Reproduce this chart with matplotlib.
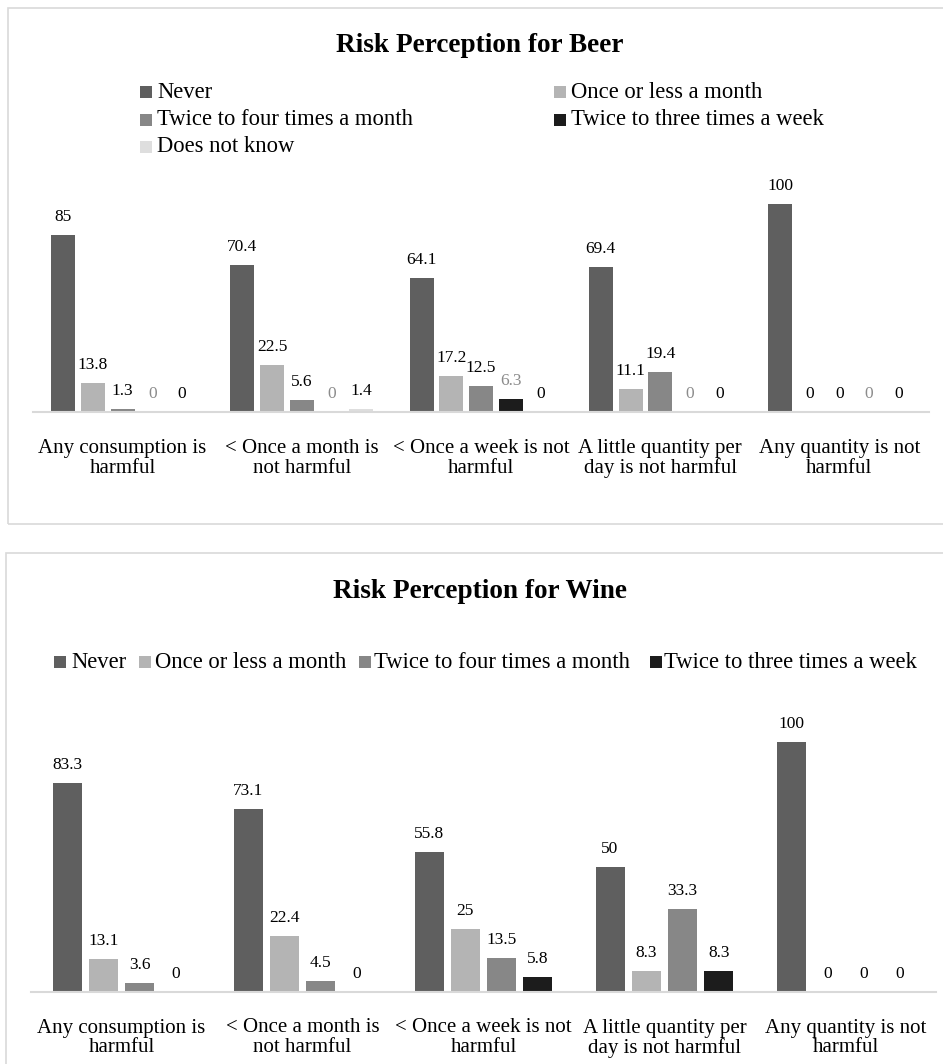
import matplotlib
matplotlib.use("Agg")
import matplotlib.pyplot as plt
from matplotlib.patches import Rectangle

plt.rcParams['font.family'] = ['Liberation Serif', 'DejaVu Serif']

categories = ["Any consumption is\nharmful", "< Once a month is\nnot harmful",
              "< Once a week is not\nharmful", "A little quantity per\nday is not harmful",
              "Any quantity is not\nharmful"]

beer_series = ["Never", "Once or less a month", "Twice to four times a month",
               "Twice to three times a week", "Does not know"]
beer_never = [85, 70.4, 64.1, 69.4, 100]
beer_once = [13.8, 22.5, 17.2, 11.1, 0]
beer_twice_month = [1.3, 5.6, 12.5, 19.4, 0]
beer_twice_week = [0, 0, 6.3, 0, 0]
beer_dnk = [0, 1.4, 0, 0, 0]

wine_series = ["Never", "Once or less a month", "Twice to four times a month",
               "Twice to three times a week"]
wine_never = [83.3, 73.1, 55.8, 50, 100]
wine_once = [13.1, 22.4, 25, 8.3, 0]
wine_twice_month = [3.6, 4.5, 13.5, 33.3, 0]
wine_twice_week = [0, 0, 5.8, 8.3, 0]

colors = ["#5f5f5f", "#b4b4b4", "#878787", "#1c1c1c", "#dedede"]
W, H = 943, 1064
DPI = 100
fig = plt.figure(figsize=(W / DPI, H / DPI), dpi=DPI)

def fx(px):
    return px / W

def fy(py):
    return 1 - py / H

BORDER = "#d9d9d9"
# panel borders
fig.add_artist(Rectangle((fx(8), fy(524)), fx(1000 - 8), (524 - 8) / H,
                         transform=fig.transFigure, fill=False, edgecolor=BORDER, lw=1.2))
fig.add_artist(Rectangle((fx(5.5), fy(1100)), fx(1000), (1100 - 553) / H,
                         transform=fig.transFigure, fill=False, edgecolor=BORDER, lw=1.2))

PX2PT = 72 / DPI

def panel(series_names, series_values, label_colors, ax_l, ax_r, y0, y100, width, pitch,
          title, title_y, legend_items):
    ax = fig.add_axes([fx(ax_l), fy(y0), fx(ax_r - ax_l), (y0 - y100) / H])
    n = len(series_values)
    xs_base = list(range(len(categories)))
    for j, vals in enumerate(series_values):
        xs = [i + (j - (n - 1) / 2) * pitch for i in xs_base]
        ax.bar(xs, vals, width=width, color=colors[j], label=series_names[j], zorder=2)
        for x, v in zip(xs, vals):
            ax.annotate(f"{v:g}", xy=(x, v), xytext=(0, 14 * PX2PT), textcoords="offset points",
                        ha="center", va="baseline", fontsize=12.5, color=label_colors[j],
                        annotation_clip=False)
    ax.set_xlim(-0.5, len(categories) - 0.5)
    ax.set_ylim(0, 100)
    for s in ["top", "left", "right"]:
        ax.spines[s].set_visible(False)
    ax.spines["bottom"].set_color(BORDER)
    ax.spines["bottom"].set_linewidth(1.5)
    ax.set_yticks([])
    ax.set_xticks([])
    for i, cat in enumerate(categories):
        lines = cat.split("\n")
        for k, line in enumerate(lines):
            ax.annotate(line, xy=(i, 0), xycoords=("data", "axes fraction"),
                        xytext=(0, -(36 + 20 * k) * PX2PT), textcoords="offset points",
                        ha="center", va="center", fontsize=15, color="#000000",
                        annotation_clip=False)
    fig.text(fx(480), fy(title_y), title, ha="center", va="center", fontsize=19.6,
             fontweight="bold")
    for (sq_x, txt_x, row_y, j) in legend_items:
        fig.add_artist(Rectangle((fx(sq_x), fy(row_y + 6)), fx(12), 12 / H,
                                 transform=fig.transFigure, color=colors[j], lw=0))
        fig.text(fx(txt_x), fy(row_y), series_names[j], ha="left", va="center",
                 fontsize=16.3)
    return ax

beer_vals = [beer_never, beer_once, beer_twice_month, beer_twice_week, beer_dnk]
beer_label_colors = ["#000000", "#000000", "#000000", "#8c8c8c", "#000000"]
beer_legend = [(140, 157, 92, 0), (554, 571, 92, 1),
               (140, 157, 119.5, 2), (554, 571, 119.5, 3),
               (140, 157, 147, 4)]
panel(beer_series, beer_vals, beer_label_colors, 33, 929, 412, 203.5,
      0.134, 0.1657, "Risk Perception for Beer", 45, beer_legend)

wine_vals = [wine_never, wine_once, wine_twice_month, wine_twice_week]
wine_label_colors = ["#000000"] * 4
wine_legend = [(54, 71, 662, 0), (139, 155, 662, 1), (358.5, 373.5, 662, 2),
               (650, 664, 662, 3)]
panel(wine_series, wine_vals, wine_label_colors, 31, 936, 992, 741.5,
      0.160, 0.2006, "Risk Perception for Wine", 591, wine_legend)

fig.savefig("out.png", dpi=DPI)
